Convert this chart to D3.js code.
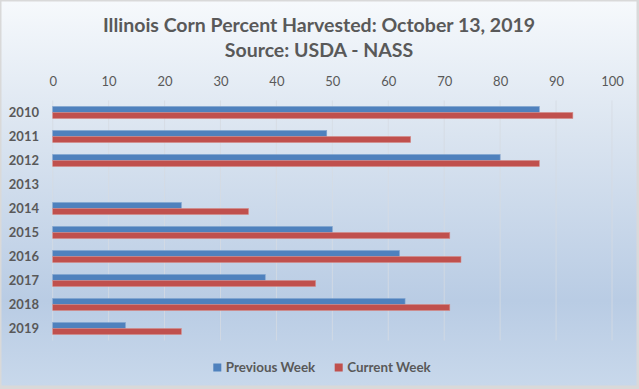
<!DOCTYPE html>
<html>
<head>
<meta charset="utf-8">
<script src="https://cdn.jsdelivr.net/npm/d3@7"></script>
<style>
html, body { margin: 0; padding: 0; background: #fff; }
svg { display: block; }
text { font-family: Lato, "Open Sans", sans-serif; }
</style>
</head>
<body>
<svg id="chart" width="639" height="389"></svg>
<script>
const years = ["2010","2011","2012","2013","2014","2015","2016","2017","2018","2019"];
const previousWeek = [87, 49, 80, null, 23, 50, 62, 38, 63, 13];
const currentWeek  = [93, 64, 87, null, 35, 71, 73, 47, 71, 23];
const xTicks = [0,10,20,30,40,50,60,70,80,90,100];
const seriesNames = ["Previous Week", "Current Week"];
const seriesColors = ["#4f81bd", "#c0504d"];
const titleLines = ["Illinois Corn Percent Harvested: October 13, 2019", "Source: USDA - NASS"];

const W = 639, H = 389;
const svg = d3.select("#chart");
const defs = svg.append("defs");
const grad = defs.append("linearGradient").attr("id","bg").attr("x1",0).attr("y1",0).attr("x2",0).attr("y2",1);
grad.append("stop").attr("offset","0%").attr("stop-color","#f6f9fc");
grad.append("stop").attr("offset","35%").attr("stop-color","#dae4f0");
grad.append("stop").attr("offset","78%").attr("stop-color","#b9cce4");
grad.append("stop").attr("offset","100%").attr("stop-color","#c8d8eb");

svg.append("rect").attr("x",0).attr("y",0).attr("width",W).attr("height",H).attr("fill","#d9d9d9");
svg.append("rect").attr("x",1.5).attr("y",1.5).attr("width",W-4).attr("height",H-5).attr("fill","url(#bg)");

const plot = {left: 52.7, right: 612, top: 100.5, bottom: 340.5};
const x = d3.scaleLinear().domain([0,100]).range([plot.left, plot.right]);
const y = d3.scaleBand().domain(years).range([plot.top, plot.bottom]).paddingInner(0.5).paddingOuter(0.25);
const ySub = d3.scaleBand().domain(seriesNames).range([0, y.bandwidth()]);

// gridlines
svg.append("g").selectAll("line").data(xTicks).join("line")
  .attr("x1", d => x(d)).attr("x2", d => x(d))
  .attr("y1", plot.top).attr("y2", plot.bottom)
  .attr("stroke", "#d6dbe2").attr("stroke-opacity", 0.8).attr("stroke-width", 1);

// top axis
const xAxis = d3.axisTop(x).tickValues(xTicks).tickSize(0).tickPadding(0);
const gx = svg.append("g").attr("transform", `translate(0,86)`).call(xAxis);
gx.select(".domain").remove();
gx.selectAll("text").attr("font-size", 13).attr("fill", "#595959").attr("dy", 0)
  .style("font-family", "Lato, sans-serif");

// category axis
const yAxis = d3.axisLeft(y).tickSize(0).tickPadding(0);
const gy = svg.append("g").attr("transform", `translate(39,0)`).call(yAxis);
gy.select(".domain").remove();
gy.selectAll("text").attr("font-size", 13).attr("font-weight", "bold").attr("fill", "#595959")
  .attr("dy", "0.36em").style("font-family", "Lato, sans-serif");

// bars
const series = [previousWeek, currentWeek];
series.forEach((vals, si) => {
  svg.append("g").selectAll("rect")
    .data(years.map((yr, i) => ({yr, v: vals[i]})).filter(d => d.v != null))
    .join("rect")
    .attr("x", x(0))
    .attr("y", d => y(d.yr) + ySub(seriesNames[si]))
    .attr("width", d => x(d.v) - x(0))
    .attr("height", ySub.bandwidth())
    .attr("fill", seriesColors[si])
    .attr("stroke", si === 0 ? "#7fa3cf" : "#d48a88")
    .attr("stroke-width", 0.6);
});

// title
svg.append("g").selectAll("text").data(titleLines).join("text")
  .attr("x", 319).attr("y", (d,i) => 31.7 + i*25)
  .attr("text-anchor", "middle")
  .attr("font-size", 19.5).attr("font-weight", "bold").attr("fill", "#595959")
  .text(d => d);

// legend
const legendX = [213.3, 334.7];
const lg = svg.append("g");
seriesNames.forEach((name, i) => {
  lg.append("rect").attr("x", legendX[i]).attr("y", 363.5).attr("width", 8).attr("height", 8).attr("fill", seriesColors[i]);
  lg.append("text").attr("x", legendX[i] + 12.5).attr("y", 367.5).attr("dy", "0.36em")
    .attr("font-size", 13.4).attr("font-weight", "bold").attr("fill", "#595959").text(name);
});
</script>
</body>
</html>
